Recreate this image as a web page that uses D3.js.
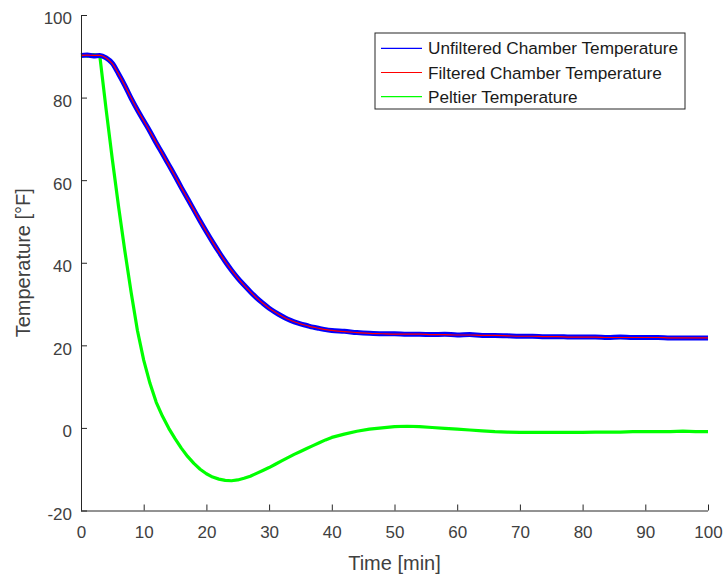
<!DOCTYPE html>
<html>
<head>
<meta charset="utf-8">
<script src="https://cdn.jsdelivr.net/npm/d3@7"></script>
<style>
  html, body { margin: 0; padding: 0; background: #fff; }
  svg { display: block; font-family: "Liberation Sans", Arial, sans-serif; }
</style>
</head>
<body>
<svg id="chart" width="724" height="574"></svg>
<script>
// Sample times in minutes
const timeMin = [
  0,1,2,3,4,5,6,7,8,9,10,11,12,13,14,15,16,17,18,19,20,
  21,22,23,24,25,26,27,28,29,30,31,32,33,34,35,36,37,38,39,40,
  42,44,46,48,50,52,54,56,58,60,62,64,66,68,70,72,74,76,78,80,
  82,84,86,88,90,92,94,96,98,100
];

// Raw chamber sensor reading [°F]
const unfilteredChamber = [
  90.2,90.3,90.1,90.2,89.6,88.3,85.7,82.9,79.8,77.0,74.4,71.8,69.0,66.4,63.7,61.0,58.2,55.5,52.8,50.1,47.5,
  45.0,42.6,40.3,38.2,36.3,34.6,33.0,31.5,30.2,29.0,28.0,27.1,26.3,25.7,25.2,24.8,24.4,24.1,23.8,23.6,
  23.4,23.1,22.9,22.8,22.8,22.7,22.7,22.6,22.7,22.5,22.6,22.4,22.4,22.3,22.2,22.2,22.1,22.1,22.0,22.0,
  22.0,21.9,22.0,21.9,21.9,21.9,21.8,21.8,21.8,21.8
];

// Smoothed chamber temperature [°F]
const filteredChamber = [
  90.2,90.3,90.2,90.2,89.6,88.2,85.7,82.9,79.9,77.0,74.4,71.8,69.1,66.4,63.7,61.0,58.2,55.5,52.8,50.1,47.5,
  45.0,42.6,40.3,38.2,36.3,34.6,33.0,31.5,30.2,29.0,28.0,27.1,26.3,25.7,25.2,24.8,24.4,24.1,23.8,23.6,
  23.3,23.1,22.9,22.8,22.7,22.7,22.7,22.6,22.6,22.5,22.5,22.4,22.4,22.3,22.2,22.2,22.1,22.1,22.0,22.0,
  22.0,21.9,21.9,21.9,21.9,21.9,21.8,21.8,21.8,21.8
];

// Peltier element temperature [°F]
const peltier = [
  90.3,90.0,90.4,90.1,77.2,65.0,53.5,42.8,32.8,23.6,16.4,10.8,6.2,2.8,-0.1,-2.6,-4.9,-6.9,-8.6,-10.0,-11.1,
  -11.9,-12.4,-12.7,-12.8,-12.6,-12.2,-11.7,-11.0,-10.3,-9.6,-8.8,-8.0,-7.2,-6.4,-5.7,-5.0,-4.3,-3.6,-2.9,-2.3,
  -1.5,-0.8,-0.3,0.0,0.3,0.4,0.3,0.1,-0.1,-0.3,-0.5,-0.7,-0.9,-1.0,-1.1,-1.1,-1.1,-1.1,-1.1,-1.1,
  -1.0,-1.0,-1.0,-0.9,-0.9,-0.9,-0.9,-0.8,-0.9,-0.9
];

const xTicks = [0,10,20,30,40,50,60,70,80,90,100];
const yTicks = [-20,0,20,40,60,80,100];

const seriesNames = [
  "Unfiltered Chamber Temperature",
  "Filtered Chamber Temperature",
  "Peltier Temperature"
];
const seriesColors = ["#0000ff", "#ff0000", "#00ff00"];

const svg = d3.select("#chart");
const plot = { left: 81, right: 708, top: 15, bottom: 510.5 };

const x = d3.scaleLinear().domain([0, 100]).range([plot.left, plot.right]);
const y = d3.scaleLinear().domain([-20, 100]).range([plot.bottom, plot.top]);

const axisColor = "#262626";
const textColor = "#404040";
const fontFam = "Liberation Sans, Arial, sans-serif";

const pathOf = (vals, curve) => d3.line()
  .x((d, i) => x(timeMin[i]))
  .y((d, i) => y(vals[i]))
  .curve(curve)(vals);

// Data lines
const lines = svg.append("g");
lines.append("path").attr("d", pathOf(peltier, d3.curveLinear))
  .attr("fill", "none").attr("stroke", seriesColors[2]).attr("stroke-width", 3.2)
  .attr("stroke-linejoin", "round");
lines.append("path").attr("d", pathOf(unfilteredChamber, d3.curveMonotoneX))
  .attr("fill", "none").attr("stroke", seriesColors[0]).attr("stroke-width", 5)
  .attr("stroke-linejoin", "round");
lines.append("path").attr("d", pathOf(filteredChamber, d3.curveMonotoneX))
  .attr("fill", "none").attr("stroke", seriesColors[1]).attr("stroke-width", 1.2);

// Axes: ticks point inward, plain hyphen for negatives
const fmt = d => String(d);
const xAxis = d3.axisBottom(x).tickValues(xTicks).tickFormat(fmt)
  .tickSizeInner(-6).tickSizeOuter(0).tickPadding(15);
const yAxis = d3.axisLeft(y).tickValues(yTicks).tickFormat(fmt)
  .tickSizeInner(-6).tickSizeOuter(0).tickPadding(9);

const gx = svg.append("g").attr("transform", `translate(0,${plot.bottom})`).call(xAxis);
const gy = svg.append("g").attr("transform", `translate(${plot.left},0)`).call(yAxis);

[gx, gy].forEach(g => {
  g.select(".domain").attr("stroke", axisColor).attr("stroke-width", 1);
  g.selectAll(".tick line").attr("stroke", axisColor).attr("stroke-width", 1);
  g.selectAll(".tick text").attr("fill", textColor)
    .style("font-size", "17px").style("font-family", fontFam);
});
gy.selectAll(".tick text").attr("dy", "0.52em");
gy.select(".domain").attr("d", `M0.5,${plot.bottom}V${plot.top}`);
gx.select(".domain").attr("d", `M${plot.left},0.5H${plot.right}`);

// Axis titles
svg.append("text")
  .attr("x", (plot.left + plot.right) / 2).attr("y", 570)
  .attr("text-anchor", "middle").attr("fill", textColor)
  .style("font-size", "20px").style("font-family", fontFam).text("Time [min]");

svg.append("text")
  .attr("transform", `translate(30,${(plot.top + plot.bottom) / 2}) rotate(-90)`)
  .attr("text-anchor", "middle").attr("fill", textColor)
  .style("font-size", "20px").style("font-family", fontFam).text("Temperature [°F]");

// Legend
const legend = svg.append("g").attr("transform", "translate(375,33)");
legend.append("rect").attr("x", 0).attr("y", 0).attr("width", 310).attr("height", 76)
  .attr("fill", "#fff").attr("stroke", axisColor).attr("stroke-width", 1);
seriesNames.forEach((name, i) => {
  const cy = 15.3 + i * 24.2;
  legend.append("line").attr("x1", 6).attr("x2", 47).attr("y1", cy).attr("y2", cy)
    .attr("stroke", seriesColors[i]).attr("stroke-width", 1.2);
  legend.append("text").attr("x", 53).attr("y", cy).attr("dy", "0.36em")
    .attr("fill", "#1a1a1a").style("font-size", "17.2px").style("font-family", fontFam)
    .text(name);
});
</script>
</body>
</html>
